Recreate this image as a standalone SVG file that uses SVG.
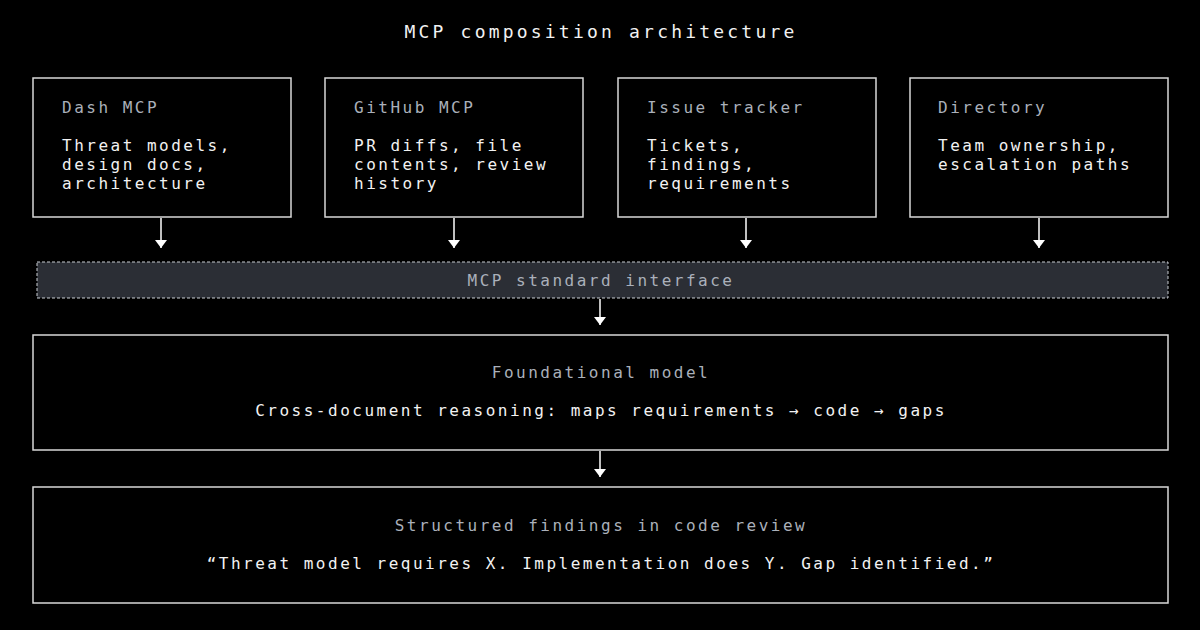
<svg xmlns="http://www.w3.org/2000/svg" width="1200" height="630" viewBox="0 0 1200 630">
<defs>
<marker id="ah" viewBox="0 0 8 12" refX="8" refY="6" markerWidth="8" markerHeight="12" markerUnits="userSpaceOnUse" orient="auto">
<path d="M0,0 L8,6 L0,12 Z" fill="#ffffff"/>
</marker>
<style>
text{font-family:"DejaVu Sans Mono","Liberation Mono",monospace;font-size:16px;letter-spacing:2.5px}
.title{font-size:18px;letter-spacing:3.2px;fill:#f2f2f2}
.head{fill:#aab0ba}
.body{fill:#f2f2f2}
.box{fill:#000;stroke:#d8d8d8;stroke-width:1.5}
.bar{fill:#2b2e35;stroke:#c8ccd2;stroke-width:1;stroke-dasharray:3 2}
.conn{stroke:#ffffff;stroke-width:1.5;fill:none;marker-end:url(#ah)}
.c{text-anchor:middle}
</style>
</defs>
<rect width="1200" height="630" fill="#000"/>
<text class="title c" x="601" y="38">MCP composition architecture</text>

<g id="dash">
<rect class="box" x="33" y="78" width="258" height="139"/>
<text class="head" x="62" y="113">Dash MCP</text>
<text class="body" x="62" y="151">Threat models,</text>
<text class="body" x="62" y="170">design docs,</text>
<text class="body" x="62" y="189">architecture</text>
</g>
<g id="github">
<rect class="box" x="325" y="78" width="258" height="139"/>
<text class="head" x="354" y="113">GitHub MCP</text>
<text class="body" x="354" y="151">PR diffs, file</text>
<text class="body" x="354" y="170">contents, review</text>
<text class="body" x="354" y="189">history</text>
</g>
<g id="issues">
<rect class="box" x="618" y="78" width="258" height="139"/>
<text class="head" x="647" y="113">Issue tracker</text>
<text class="body" x="647" y="151">Tickets,</text>
<text class="body" x="647" y="170">findings,</text>
<text class="body" x="647" y="189">requirements</text>
</g>
<g id="directory">
<rect class="box" x="910" y="78" width="258" height="139"/>
<text class="head" x="938" y="113">Directory</text>
<text class="body" x="938" y="151">Team ownership,</text>
<text class="body" x="938" y="170">escalation paths</text>
</g>
<g id="interface">
<rect class="bar" x="37" y="262" width="1131" height="36"/>
<text class="head c" x="601" y="286">MCP standard interface</text>
</g>
<g id="model">
<rect class="box" x="33" y="335" width="1135" height="115"/>
<text class="head c" x="601" y="378">Foundational model</text>
<text class="body c" x="601" y="416">Cross-document reasoning: maps requirements → code → gaps</text>
</g>
<g id="findings">
<rect class="box" x="33" y="487" width="1135" height="116"/>
<text class="head c" x="601" y="531">Structured findings in code review</text>
<text class="body c" x="601" y="569">“Threat model requires X. Implementation does Y. Gap identified.”</text>
</g>
<g id="connectors">
<line class="conn" x1="161" y1="218" x2="161" y2="248"/>
<line class="conn" x1="454" y1="218" x2="454" y2="248"/>
<line class="conn" x1="746" y1="218" x2="746" y2="248"/>
<line class="conn" x1="1039" y1="218" x2="1039" y2="248"/>
<line class="conn" x1="600" y1="299" x2="600" y2="325"/>
<line class="conn" x1="600" y1="451" x2="600" y2="477"/>
</g>
</svg>
